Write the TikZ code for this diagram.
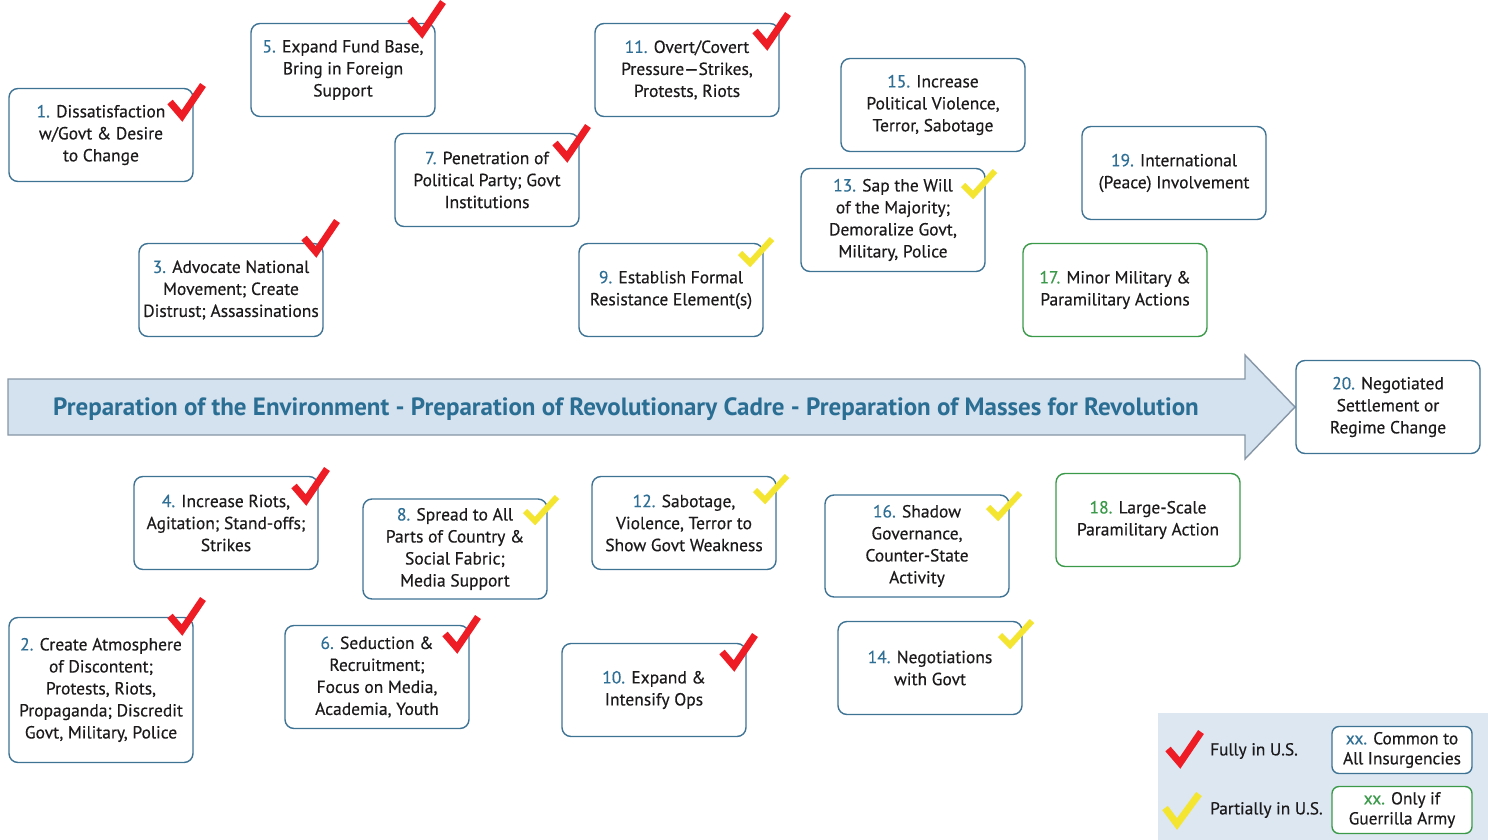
\documentclass[tikz,border=0pt]{standalone}
\usepackage{fontspec}
\setmainfont{PT Sans}
\newfontfamily\boxfont{PT Sans}[FakeBold=0.4]
\definecolor{boxblue}{HTML}{3F7394}
\definecolor{numblue}{HTML}{2F6F95}
\definecolor{grn}{HTML}{3B9A4A}
\definecolor{txt}{HTML}{1C1A1B}
\definecolor{arrowfill}{HTML}{D4E1EF}
\definecolor{arrowdraw}{HTML}{8796A6}
\definecolor{arrowtext}{HTML}{2B6E93}
\definecolor{chkred}{HTML}{EE1C24}
\definecolor{chkyel}{HTML}{F3E530}
\definecolor{legbg}{HTML}{DDE7F2}
\newcommand\numb[1]{\textcolor{numblue}{#1.}}
\newcommand\numg[1]{\textcolor{grn}{#1.}}
\tikzset{
  stagebox/.style={draw=boxblue, line width=1.4pt, fill=white, rounded corners=9pt,
    minimum width=184pt, minimum height=93pt, align=center, text=txt, inner sep=0pt,
    font=\boxfont\fontsize{17.5}{22}\selectfont},
  greenbox/.style={stagebox, draw=grn},
  legbox/.style={stagebox, minimum width=140pt, minimum height=47pt, rounded corners=7pt,
    font=\boxfont\fontsize{17.3}{20}\selectfont},
  legtext/.style={text=txt, font=\boxfont\fontsize{17.3}{20}\selectfont, inner sep=0pt},
  redchk/.pic={\draw[chkred, line width=7pt, line join=miter, line cap=butt] (-12,-14) -- (0,0) -- (21,-31);},
  yelchk/.pic={\draw[chkyel, line width=6pt, line join=miter, line cap=butt] (-10,-10) -- (0,0) -- (22,-24);},
  bigyelchk/.pic={\draw[chkyel, line width=7pt, line join=miter, line cap=butt] (-12,-16) -- (0,0) -- (22,-30);},
}
\begin{document}
\begin{tikzpicture}[x=1pt,y=-1pt]
\useasboundingbox (0,0) rectangle (1488,840);
% legend background
\fill[legbg] (1158,713) rectangle (1488,840);
% big arrow
\draw[arrowdraw, line width=1.4pt, fill=arrowfill, line join=miter]
  (8,379) -- (1245,379) -- (1245,355) -- (1295,407) -- (1245,459) -- (1245,435) -- (8,435) -- cycle;
\node[text=arrowtext, font=\fontsize{25}{28}\selectfont\bfseries, inner sep=0pt] (banner) at (626,409)
  {Preparation of the Environment - Preparation of Revolutionary Cadre - Preparation of Masses for Revolution};
% top row boxes
\node[stagebox] (b1) at (101,135) {\numb{1} Dissatisfaction\\w/Govt \& Desire\\to Change};
\node[stagebox] (b5) at (343,70) {\numb{5} Expand Fund Base,\\Bring in Foreign\\Support};
\node[stagebox] (b11) at (687,70) {\numb{11} Overt/Covert\\Pressure—Strikes,\\Protests, Riots};
\node[stagebox] (b15) at (933,105) {\numb{15} Increase\\Political Violence,\\Terror, Sabotage};
\node[stagebox] (b19) at (1174,173) {\numb{19} International\\(Peace) Involvement};
\node[stagebox] (b7) at (487,180) {\numb{7} Penetration of\\Political Party; Govt\\Institutions};
\node[stagebox, minimum height=103pt] (b13) at (893,220) {\numb{13} Sap the Will\\of the Majority;\\Demoralize Govt,\\Military, Police};
\node[stagebox] (b3) at (231,290) {\numb{3} Advocate National\\Movement; Create\\Distrust; Assassinations};
\node[stagebox] (b9) at (671,290) {\numb{9} Establish Formal\\Resistance Element(s)};
\node[greenbox] (b17) at (1115,290) {\numg{17} Minor Military \&\\Paramilitary Actions};
\node[stagebox] (b20) at (1388,407) {\numb{20} Negotiated\\Settlement or\\Regime Change};
% bottom row boxes
\node[stagebox] (b4) at (226,523) {\numb{4} Increase Riots,\\Agitation; Stand-offs;\\Strikes};
\node[stagebox, minimum height=100pt] (b8) at (455,549) {\numb{8} Spread to All\\Parts of Country \&\\Social Fabric;\\Media Support};
\node[stagebox] (b12) at (684,523) {\numb{12} Sabotage,\\Violence, Terror to\\Show Govt Weakness};
\node[stagebox, minimum height=102pt] (b16) at (917,546) {\numb{16} Shadow\\Governance,\\Counter-State\\Activity};
\node[greenbox] (b18) at (1148,520) {\numg{18} Large-Scale\\Paramilitary Action};
\node[stagebox, minimum height=145pt] (b2) at (101,690) {\numb{2} Create Atmosphere\\of Discontent;\\Protests, Riots,\\Propaganda; Discredit\\Govt, Military, Police};
\node[stagebox, minimum height=103pt] (b6) at (377,677) {\numb{6} Seduction \&\\Recruitment;\\Focus on Media,\\Academia, Youth};
\node[stagebox] (b10) at (654,690) {\numb{10} Expand \&\\Intensify Ops};
\node[stagebox] (b14) at (930,668) {\numb{14} Negotiations\\with Govt};
% check marks
\pic at (182,116) {redchk};
\pic at (422,33) {redchk};
\pic at (767,45) {redchk};
\pic at (567,157) {redchk};
\pic at (316,252) {redchk};
\pic at (973,195) {yelchk};
\pic at (750,263) {yelchk};
\pic at (306,500) {redchk};
\pic at (535,521) {yelchk};
\pic at (765,500) {yelchk};
\pic at (998,517) {yelchk};
\pic at (182,630) {redchk};
\pic at (457,648) {redchk};
\pic at (734,666) {redchk};
\pic at (1010,645) {yelchk};
% legend
\pic at (1180,763) {redchk};
\pic at (1177,824) {bigyelchk};
\node[legtext, anchor=west] (lfull) at (1210,751) {Fully in U.S.};
\node[legtext, anchor=west] (lpart) at (1210,810) {Partially in U.S.};
\node[legbox] (lcommon) at (1402,750) {\numb{xx} Common to\\All Insurgencies};
\node[legbox, draw=grn] (lguer) at (1402,810) {\numg{xx} Only if\\Guerrilla Army};
\end{tikzpicture}
\end{document}
